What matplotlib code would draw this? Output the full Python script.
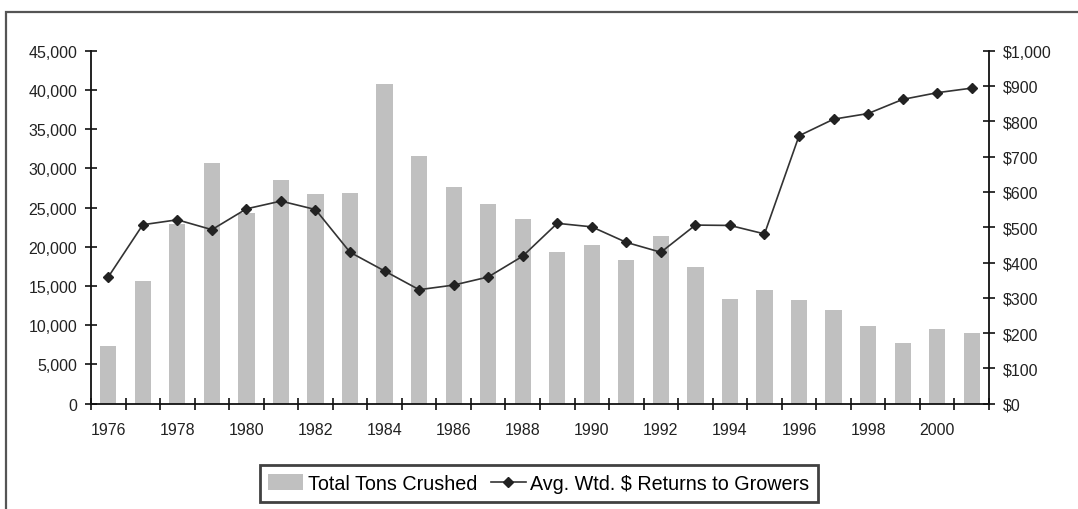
import numpy as np
import matplotlib.pyplot as plt
from matplotlib.patches import Rectangle
from matplotlib.ticker import FuncFormatter, MultipleLocator

plt.rcParams['font.family'] = ['Liberation Sans', 'DejaVu Sans']

anios = list(range(1976, 2002))
toneladas = [7400, 15600, 22900, 30700, 24300, 28500, 26700, 26900, 40700, 31600,
             27600, 25400, 23600, 19300, 20200, 18300, 21400, 17400, 13400, 14500,
             13200, 11900, 9950, 7700, 9500, 9050]
retornos = [359, 507, 521, 493, 552, 574, 550, 429, 376, 323,
            336, 359, 418, 511, 501, 457, 429, 506, 505, 481,
            759, 806, 822, 862, 881, 894]

W, H = 1078, 510
fig = plt.figure(figsize=(W / 100, H / 100), dpi=100)

# marco exterior (cortado a la derecha y abajo)
fig.patches.append(Rectangle((6 / W, -0.1), 1.2, 1 - 13 / H + 0.1, transform=fig.transFigure,
                             fill=False, edgecolor='#555555', linewidth=1.6))

ax = fig.add_axes([91 / W, 1 - 404.7 / H, (989 - 91) / W, (404.7 - 51.7) / H])
ax.bar(anios, toneladas, width=0.47, color='#c0c0c0', label='Total Tons Crushed', zorder=1)
ax.set_xlim(1975.5, 2001.5)
ax.set_ylim(0, 45000)
ax.yaxis.set_major_locator(MultipleLocator(5000))
ax.yaxis.set_major_formatter(FuncFormatter(lambda v, p: f'{int(v):,}'))

ax.set_xticks(anios[::2])
ax.set_xticks(np.arange(1975.5, 2002, 1), minor=True)
ax.tick_params(axis='x', which='major', length=0, pad=13, labelsize=11.5, labelcolor='#222222')
ax.tick_params(axis='x', which='minor', direction='inout', length=8, width=1.2, color='#111111')
ax.tick_params(axis='y', direction='inout', length=8, width=1.2, pad=6, labelsize=11.5,
               labelcolor='#222222', color='#111111')
for s in ['top', 'right']:
    ax.spines[s].set_visible(False)
for s in ['left', 'bottom']:
    ax.spines[s].set_linewidth(1.3)
    ax.spines[s].set_color('#111111')

ax2 = ax.twinx()
ax2.plot(anios, retornos, '-', color='#333333', lw=1.2, marker='D', markersize=4.8,
         markerfacecolor='#222222', markeredgecolor='#222222',
         label='Avg. Wtd. $ Returns to Growers', zorder=3)
ax2.set_ylim(0, 1000)
ax2.yaxis.set_major_locator(MultipleLocator(100))
ax2.yaxis.set_major_formatter(FuncFormatter(lambda v, p: f'${int(v):,}'))
ax2.tick_params(axis='y', direction='inout', length=8, width=1.2, pad=6, labelsize=11.5,
                labelcolor='#222222', color='#111111')
for s in ['top', 'left', 'bottom']:
    ax2.spines[s].set_visible(False)
ax2.spines['right'].set_linewidth(1.3)
ax2.spines['right'].set_color('#111111')

h1, l1 = ax.get_legend_handles_labels()
h2, l2 = ax2.get_legend_handles_labels()
leg = fig.legend(h1 + h2, l1 + l2, loc='center', bbox_to_anchor=(539 / W, 1 - 484.5 / H),
                 bbox_transform=fig.transFigure, ncol=2, fontsize=14.2, frameon=True,
                 fancybox=False, handlelength=1.75, handleheight=0.85, handletextpad=0.25,
                 columnspacing=0.7, borderpad=0.45, borderaxespad=0)
leg.get_frame().set_edgecolor('#111111')
leg.get_frame().set_linewidth(2)

fig.savefig('out.png', dpi=100)
